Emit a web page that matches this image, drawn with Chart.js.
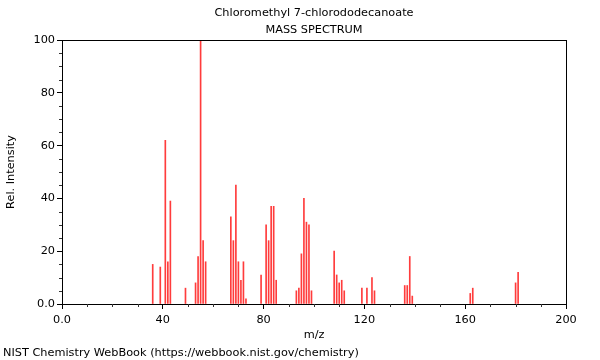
<!DOCTYPE html>
<html>
<head>
<meta charset="utf-8">
<script src="https://cdn.jsdelivr.net/npm/chart.js@4"></script>
<style>
  html, body { margin: 0; padding: 0; background: #fff; }
  #wrap { width: 600px; height: 360px; position: relative; }
</style>
</head>
<body>
<div id="wrap"><canvas id="c" width="600" height="360"></canvas></div>
<script>
// ---- data ----
const titleLines = ['Chloromethyl 7-chlorododecanoate', 'MASS SPECTRUM'];
const footerText = 'NIST Chemistry WebBook (https://webbook.nist.gov/chemistry)';
const mzValues = [36,39,41,42,43,49,53,54,55,56,57,67,68,69,70,71,72,73,79,81,82,83,84,85,93,94,95,96,97,98,99,108,109,110,111,112,119,121,123,124,136,137,138,139,162,163,180,181];
const intensities = [15,14,62,16,39,6,8,18,100,24,16,33,24,45,16,9,16,2,11,30,24,37,37,9,5,6,19,40,31,30,5,20,11,8,9,5,6,6,10,5,7,7,18,3,4,6,8,12];
const xMajorTicks = [0,40,80,120,160,200];
const yMajorTicks = [0,20,40,60,80,100];

const FONT = 'DejaVu Sans';
const FS = 11.3;

const frameAndText = {
  id: 'frameAndText',
  afterDraw(chart) {
    const ctx = chart.ctx, a = chart.chartArea;
    const xs = chart.scales.x, ys = chart.scales.y;
    ctx.save();
    ctx.strokeStyle = '#000';
    ctx.lineWidth = 1;
    ctx.strokeRect(Math.round(a.left) + 0.5, Math.round(a.top) + 0.5,
                   Math.round(a.right - a.left), Math.round(a.bottom - a.top));
    ctx.strokeStyle = '#333';
    ctx.beginPath();
    for (let v = 0; v <= 200; v += 10) {
      if (v % 40 === 0) continue;
      const px = Math.round(xs.getPixelForValue(v)) + 0.5;
      ctx.moveTo(px, Math.round(a.bottom));
      ctx.lineTo(px, Math.round(a.bottom) + 3);
    }
    for (let v = 0; v <= 100; v += 5) {
      if (v % 20 === 0) continue;
      const py = Math.round(ys.getPixelForValue(v)) + 0.5;
      ctx.moveTo(Math.round(a.left), py);
      ctx.lineTo(Math.round(a.left) - 3, py);
    }
    ctx.stroke();
    ctx.fillStyle = '#000';
    ctx.font = FS + 'px "' + FONT + '"';
    ctx.textBaseline = 'middle';
    ctx.textAlign = 'center';
    const cx = (a.left + a.right) / 2;
    ctx.fillText(titleLines[0], cx, 13);
    ctx.fillText(titleLines[1], cx, 30);
    ctx.textAlign = 'left';
    ctx.fillText(footerText, 3, 353);
    ctx.restore();
  }
};

new Chart(document.getElementById('c'), {
  type: 'bar',
  data: {
    datasets: [{
      data: mzValues.map((m, i) => ({ x: m, y: intensities[i] })),
      backgroundColor: 'rgb(255,60,60)',
      borderWidth: 0,
      barThickness: 1
    }]
  },
  options: {
    responsive: false,
    animation: false,
    devicePixelRatio: 1,
    layout: { padding: { left: 0, right: 34, top: 40, bottom: 18 } },
    plugins: {
      legend: { display: false },
      tooltip: { enabled: false },
      title: { display: false },
      subtitle: { display: false }
    },
    scales: {
      x: {
        type: 'linear', min: 0, max: 200, offset: false, bounds: 'ticks',
        afterBuildTicks(s) { s.ticks = xMajorTicks.map(v => ({ value: v })); },
        afterFit(s) { s.height = 38; },
        ticks: {
          color: '#000', font: { family: FONT, size: FS }, padding: 4, maxRotation: 0,
          callback: v => v === 0 ? '0.0' : String(v)
        },
        grid: { drawOnChartArea: false, offset: false, tickLength: 5, color: '#000' },
        border: { color: '#000' },
        title: { display: true, text: 'm/z', color: '#000', font: { family: FONT, size: FS }, padding: { top: 0, bottom: 0 } }
      },
      y: {
        type: 'linear', min: 0, max: 100,
        afterBuildTicks(s) { s.ticks = yMajorTicks.map(v => ({ value: v })); },
        afterFit(s) { s.width = 62; },
        ticks: {
          color: '#000', font: { family: FONT, size: FS }, padding: 2,
          callback: v => v === 0 ? '0.0' : String(v)
        },
        grid: { drawOnChartArea: false, tickLength: 5, color: '#000' },
        border: { color: '#000' },
        title: { display: true, text: 'Rel. Intensity', color: '#000', font: { family: FONT, size: FS }, padding: { top: 4, bottom: 0 } }
      }
    }
  },
  plugins: [frameAndText]
});
</script>
</body>
</html>
